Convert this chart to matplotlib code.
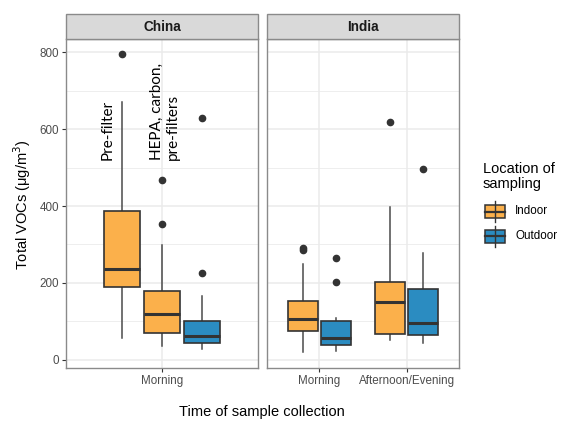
import matplotlib
matplotlib.use("Agg")
import matplotlib.pyplot as plt
from matplotlib.patches import Rectangle
from matplotlib.lines import Line2D

# ---- data ----
china_groups = ["Pre-filter", "HEPA, carbon,\npre-filters", "Outdoor"]
china_loc = ["Indoor", "Indoor", "Outdoor"]
china_whislo = [56, 35, 28]
china_q1 = [189, 69, 43]
china_med = [235, 119, 63]
china_q3 = [387, 178, 101]
china_whishi = [669, 299, 166]
china_fliers = [[794], [467, 353], [629, 227]]

india_times = ["Morning", "Afternoon/Evening"]
india_loc = ["Indoor", "Outdoor"]
# order: Morning-Indoor, Morning-Outdoor, Afternoon-Indoor, Afternoon-Outdoor
india_whislo = [20, 23, 52, 45]
india_q1 = [74, 40, 68, 65]
india_med = [106, 58, 151, 95]
india_q3 = [154, 100, 203, 184]
india_whishi = [248, 110, 398, 277]
india_fliers = [[290, 286], [264, 203], [619], [495]]

y_ticks = [0, 200, 400, 600, 800]
colors = {"Indoor": "#FBB04B", "Outdoor": "#2B8CC1"}

# ---- style ----
plt.rcParams["font.family"] = ["Liberation Sans", "DejaVu Sans"]
EDGE = "#333333"
GRID = "#EBEBEB"
BORDER = "#8A8A8A"
TICKC = "#4D4D4D"

fig = plt.figure(figsize=(5.61, 4.21), dpi=100)
W, H = 561, 421


def fx(px):
    return px / W


def fy(py):
    return 1 - py / H


ax_top, ax_bot = 39, 368
ax1 = fig.add_axes([fx(66), fy(ax_bot), fx(258) - fx(66), fy(ax_top) - fy(ax_bot)])
ax2 = fig.add_axes([fx(266.7), fy(ax_bot), fx(459) - fx(266.7), fy(ax_top) - fy(ax_bot)])


def make_stats(wl, q1, med, q3, wh, fl):
    return [dict(whislo=a, q1=b, med=c, q3=d, whishi=e, fliers=f)
            for a, b, c, d, e, f in zip(wl, q1, med, q3, wh, fl)]


def draw_boxes(ax, stats, positions, width, locs):
    bp = ax.bxp(stats, positions=positions, widths=width, patch_artist=True,
                showcaps=False, manage_ticks=False,
                boxprops=dict(edgecolor=EDGE, linewidth=1.2),
                whiskerprops=dict(color="#4A4A4A", linewidth=1.1),
                medianprops=dict(color=EDGE, linewidth=2.2),
                flierprops=dict(marker="o", markerfacecolor=EDGE,
                                markeredgecolor=EDGE, markersize=4.5))
    for patch, loc in zip(bp["boxes"], locs):
        patch.set_facecolor(colors[loc])
    for w in bp["whiskers"]:
        w.set_zorder(1.5)


def style_axes(ax, xticks, xlabels, xlim, show_y):
    ax.set_xlim(*xlim)
    ax.set_ylim(-21, 834)
    ax.set_yticks(y_ticks)
    ax.set_yticks([100, 300, 500, 700], minor=True)
    ax.set_xticks(xticks)
    ax.set_xticklabels(xlabels, fontsize=8.2, color=TICKC)
    ax.grid(True, which="major", color=GRID, linewidth=1.1, zorder=0)
    ax.grid(True, which="minor", axis="y", color=GRID, linewidth=0.6, zorder=0)
    ax.set_axisbelow(True)
    for s in ax.spines.values():
        s.set_color(BORDER)
        s.set_linewidth(1.0)
    ax.tick_params(axis="both", which="major", length=3, color=EDGE, width=0.8,
                   labelsize=8.4, labelcolor=TICKC, pad=2)
    ax.tick_params(axis="y", which="minor", length=0)
    if show_y:
        ax.set_yticklabels([str(v) for v in y_ticks])
    else:
        ax.tick_params(axis="y", which="major", length=0, labelleft=False)


# China panel
c_stats = make_stats(china_whislo, china_q1, china_med, china_q3, china_whishi, china_fliers)
draw_boxes(ax1, c_stats, [0.75, 1.0, 1.25], 0.225, china_loc)
style_axes(ax1, [1], ["Morning"], (0.4, 1.6), True)

# India panel
i_stats = make_stats(india_whislo, india_q1, india_med, india_q3, india_whishi, india_fliers)
i_pos = [1 - 0.1875, 1 + 0.1875, 2 - 0.1875, 2 + 0.1875]
i_locs = [india_loc[0], india_loc[1], india_loc[0], india_loc[1]]
draw_boxes(ax2, i_stats, i_pos, 0.343, i_locs)
style_axes(ax2, [1, 2], india_times, (0.4, 2.6), False)

# annotations in China panel
ann_font = ["Lato", "DejaVu Sans"]
ax1.text(0.66, 519, china_groups[0], rotation=90, ha="center", va="bottom",
         fontsize=11, family=ann_font, color="black")
ax1.text(1.02, 519, china_groups[1], rotation=90, ha="center", va="bottom",
         multialignment="left", fontsize=11, family=ann_font,
         color="black", linespacing=1.15)

# strips
for left, right, label in [(66, 258, "China"), (266.7, 459, "India")]:
    r = Rectangle((fx(left), fy(ax_top)), fx(right) - fx(left), fy(14) - fy(ax_top),
                  transform=fig.transFigure, facecolor="#D9D9D9", edgecolor=BORDER,
                  linewidth=1.0)
    fig.add_artist(r)
    fig.text(fx((left + right) / 2), fy(27), label, ha="center", va="center",
             fontsize=9.8, fontweight="bold", color="#1A1A1A")

# axis titles
fig.text(fx(22), fy(205), "Total VOCs (\u03bcg/m$^3$)", rotation=90, ha="center",
         va="center", fontsize=10.5, color="black")
fig.text(fx(262), fy(412), "Time of sample collection", ha="center", va="center",
         fontsize=10.5, color="black")

# legend
fig.text(fx(483), fy(176.5), "Location of\nsampling", ha="left", va="center",
         fontsize=10.5, color="black", linespacing=1.1)
for (ytop, ybot), loc in zip([(205, 218), (229.5, 243)], india_loc):
    xl, xr = 485, 505
    xm = (xl + xr) / 2
    fig.add_artist(Line2D([fx(xm), fx(xm)], [fy(ytop - 4), fy(ybot + 4)],
                          transform=fig.transFigure, color=EDGE, linewidth=1.0))
    fig.add_artist(Rectangle((fx(xl), fy(ybot)), fx(xr) - fx(xl), fy(ytop) - fy(ybot),
                             transform=fig.transFigure, facecolor=colors[loc],
                             edgecolor=EDGE, linewidth=1.1))
    ym = (ytop + ybot) / 2
    fig.add_artist(Line2D([fx(xl), fx(xr)], [fy(ym), fy(ym)],
                          transform=fig.transFigure, color=EDGE, linewidth=1.6))
    fig.text(fx(515), fy(ym), loc, ha="left", va="center", fontsize=8.4, color="black")

fig.savefig("out.png", dpi=100)
